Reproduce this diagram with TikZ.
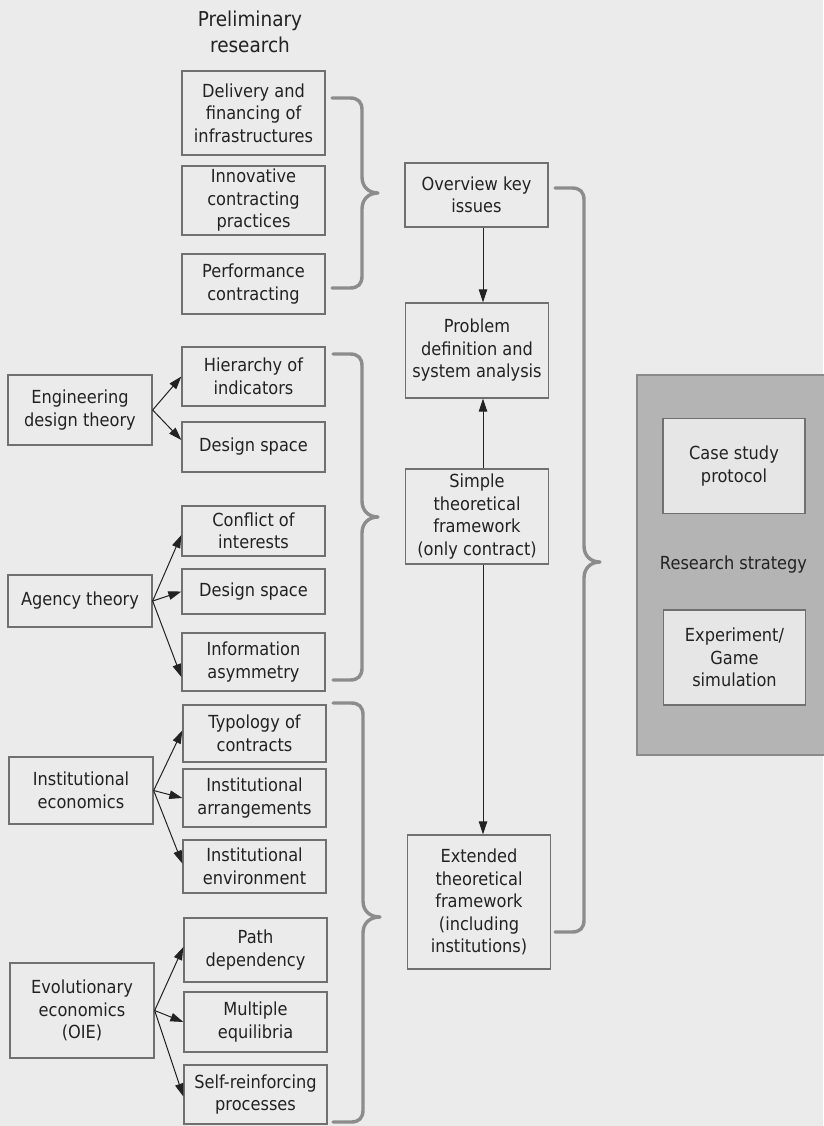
\documentclass[tikz,border=0pt]{standalone}
\usepackage{fontspec}
\setmainfont{DejaVu Sans}[FakeStretch=0.9]
\usetikzlibrary{arrows.meta}

\definecolor{pagebg}{HTML}{EBEBEB}
\definecolor{ink}{HTML}{222222}
\definecolor{boxline}{HTML}{707070}
\definecolor{bracegray}{HTML}{8C8C8C}
\definecolor{stratfill}{HTML}{B4B4B4}
\definecolor{stratline}{HTML}{8A8A8A}
\definecolor{innerfill}{HTML}{E6E6E6}

% curly bracket: stub x, stem x, tip x, top y, tip y, bottom y
\newcommand{\gbrace}[6]{%
  \draw[bracket] (#1,#4) -- ({#2-12},#4)
    .. controls ({#2-4},#4) and (#2,{#4+4}) .. (#2,{#4+12})
    -- (#2,{#5-16})
    .. controls (#2,{#5-6}) and ({#2+7},#5) .. (#3,#5)
    .. controls ({#2+7},#5) and (#2,{#5+6}) .. (#2,{#5+16})
    -- (#2,{#6-12})
    .. controls (#2,{#6-4}) and ({#2-4},#6) .. ({#2-12},#6)
    -- (#1,#6);}

\begin{document}
\begin{tikzpicture}[x=1pt,y=-1pt,
  every node/.style={font=\fontsize{18}{22.5}\selectfont, text=ink,
                     align=center, inner sep=0pt},
  topic/.style={draw=boxline, line width=1.3pt, minimum width=143pt},
  theory/.style={draw=boxline, line width=1.3pt, minimum width=144pt},
  stage/.style={draw=boxline, line width=1.3pt, minimum width=143pt},
  method/.style={draw=boxline, line width=1.3pt, fill=innerfill,
                 minimum width=142pt, minimum height=95pt},
  link/.style={draw=ink, line width=1pt, -{Triangle[length=13pt,width=8.5pt]}},
  bracket/.style={draw=bracegray, line width=3.4pt, line cap=round,
                  line join=round},
]
\useasboundingbox (0,0) rectangle (823,1126);
\fill[pagebg] (0,0) rectangle (823,1126);

% heading
\node[font=\fontsize{20.5}{26}\selectfont] (title) at (250,32) {Preliminary\\research};

% preliminary topics and theory components
\node[topic, minimum height=84pt] (deliv)  at (253.5,113)   {Delivery and\\financing of\\infrastructures};
\node[topic, minimum height=69pt] (innov)  at (253.5,200.5) {Innovative\\contracting\\practices};
\node[topic, minimum height=60pt] (perf)   at (253.5,284)   {Performance\\contracting};
\node[topic, minimum height=59pt] (hier)   at (253.5,376.5) {Hierarchy of\\indicators};
\node[topic, minimum height=50pt] (dsp1)   at (253.5,447)   {Design space};
\node[topic, minimum height=50pt] (confl)  at (253.5,531)   {Conflict of\\interests};
\node[topic, minimum height=45pt] (dsp2)   at (253.5,591.5) {Design space};
\node[topic, minimum height=58pt] (info)   at (253.5,662)   {Information\\asymmetry};
\node[topic, minimum height=57pt] (typol)  at (254.5,733.5) {Typology of\\contracts};
\node[topic, minimum height=58pt] (arrang) at (254.5,798)   {Institutional\\arrangements};
\node[topic, minimum height=53pt] (envir)  at (254.5,866.5) {Institutional\\environment};
\node[topic, minimum height=64pt] (path)   at (255.5,950)   {Path\\dependency};
\node[topic, minimum height=60pt] (multi)  at (255.5,1022)  {Multiple\\equilibria};
\node[topic, minimum height=59pt] (selfr)  at (255.5,1094.5){Self-reinforcing\\processes};

% source theories
\node[theory, minimum height=70pt] (eng)    at (80,410)    {Engineering\\design theory};
\node[theory, minimum height=52pt] (agency) at (80,601)    {Agency theory};
\node[theory, minimum height=67pt] (instec) at (81,790.5)  {Institutional\\economics};
\node[theory, minimum height=95pt] (evol)   at (82,1010.5) {Evolutionary\\economics\\(OIE)};

% research stages
\node[stage, minimum height=64pt]  (overview) at (476.5,195) {Overview key\\issues};
\node[stage, minimum height=95pt]  (problem)  at (477,350.5) {Problem\\definition and\\system analysis};
\node[stage, minimum height=95pt]  (simple)   at (477,516.5) {Simple\\theoretical\\framework\\(only contract)};
\node[stage, minimum height=134pt] (extended) at (479,902)   {Extended\\theoretical\\framework\\(including\\institutions)};

% research strategy panel
\node[draw=stratline, line width=1.3pt, fill=stratfill,
      minimum width=193pt, minimum height=380pt] (strat) at (733.5,565) {Research strategy};
\node[method] (case)  at (734,466)   {Case study\\protocol};
\node[method] (exper) at (734.5,657.5) {Experiment/\\Game\\simulation};

% theory fans
\draw[link] (eng.east) -- (hier.west);
\draw[link] (eng.east) -- ([yshift=7pt]dsp1.west);
\draw[link] (agency.east) -- ([yshift=-4pt]confl.west);
\draw[link] (agency.east) -- (dsp2.west);
\draw[link] (agency.east) -- ([yshift=-15pt]info.west);
\draw[link] (instec.east) -- ([yshift=3pt]typol.west);
\draw[link] (instec.east) -- (arrang.west);
\draw[link] (instec.east) -- ([yshift=3pt]envir.west);
\draw[link] (evol.east) -- ([yshift=3pt]path.west);
\draw[link] (evol.east) -- (multi.west);
\draw[link] (evol.east) -- ([yshift=-2pt]selfr.west);

% stage flow
\coordinate (spine) at (483,0);
\draw[link] (overview.south -| spine) -- (problem.north -| spine);
\draw[link] (simple.north -| spine) -- (problem.south -| spine);
\draw[link] (simple.south -| spine) -- (extended.north -| spine);

% grouping brackets
\gbrace{332}{362}{378}{98}{193}{288}
\gbrace{333}{362}{378}{354}{517}{680}
\gbrace{333}{363}{380}{703}{917}{1122}
\gbrace{555}{584}{600}{188}{562}{932}
\end{tikzpicture}
\end{document}
